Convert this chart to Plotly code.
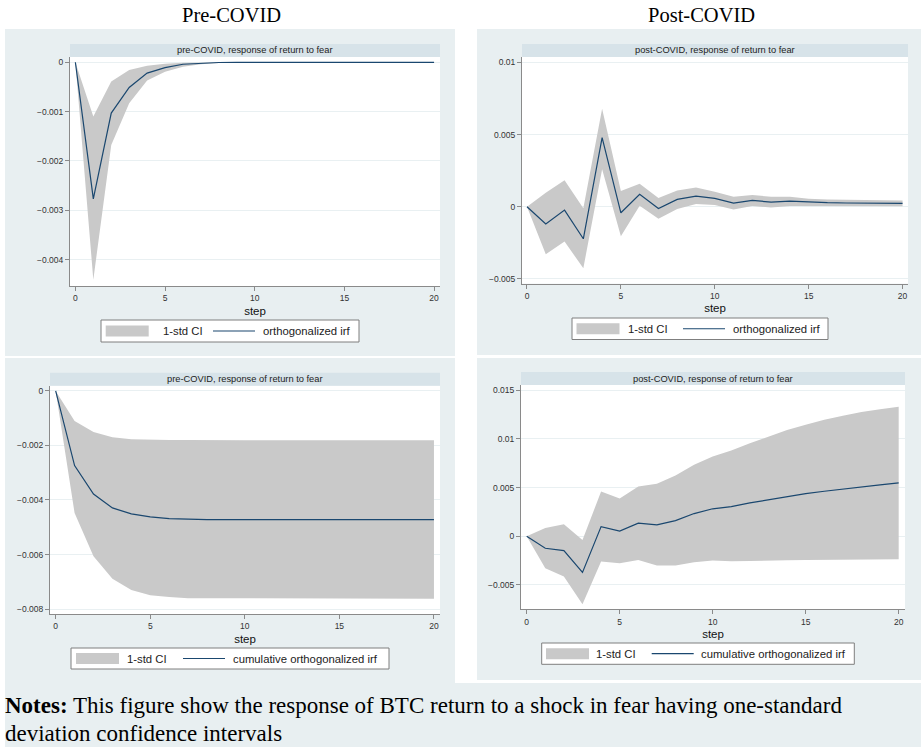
import plotly.graph_objects as go

W, H = 921, 747

# ---------------- data ----------------
steps = list(range(21))

# pre-COVID, orthogonalized irf
pre_irf = [0, -0.00277, -0.00103, -0.00051, -0.00022, -0.00011, -0.00004, -0.000015, -0.000005,
           -0.000002, 0, 0, 0, 0, 0, 0, 0, 0, 0, 0, 0]
pre_hi = [0, -0.00110, -0.00039, -0.000155, -0.00007, -0.00003, -0.00001, -0.000003, 0,
          0, 0, 0, 0, 0, 0, 0, 0, 0, 0, 0, 0]
pre_lo = [0, -0.00441, -0.00168, -0.00083, -0.00037, -0.00019, -0.00009, -0.00004, -0.000015,
          -0.000005, -0.000002, 0, 0, 0, 0, 0, 0, 0, 0, 0, 0]

# post-COVID, orthogonalized irf
post_irf = [0, -0.00120, -0.00023, -0.00222, 0.00479, -0.00042, 0.00086, -0.00012, 0.00051, 0.00074,
            0.00058, 0.00025, 0.00044, 0.00032, 0.00039, 0.00032, 0.00028, 0.00026, 0.00025, 0.00024, 0.00023]
post_hi = [0, 0.00097, 0.00183, -0.00010, 0.00678, 0.00109, 0.00160, 0.00060, 0.00113, 0.00134,
           0.00104, 0.00069, 0.00081, 0.00069, 0.00069, 0.00055, 0.00050, 0.00048, 0.00046, 0.00045, 0.00044]
post_lo = [0, -0.00329, -0.00241, -0.00426, 0.00259, -0.00204, 0.00007, -0.00083, -0.00016, 0.00019,
           0.00012, -0.00019, 0.00005, -0.00005, 0.00005, 0.0, 0.00002, 0.00002, 0.00002, 0.00003, 0.00003]

# pre-COVID, cumulative orthogonalized irf
cpre_irf = [0, -0.00274, -0.00378, -0.00429, -0.00451, -0.00462, -0.00468, -0.00471, -0.00472,
            -0.00472, -0.00472, -0.00472, -0.00472, -0.00472, -0.00472, -0.00472, -0.00472, -0.00472,
            -0.00472, -0.00472, -0.00472]
cpre_hi = [0, -0.00110, -0.00151, -0.00170, -0.00177, -0.00179, -0.00180, -0.00180, -0.00181,
           -0.00181, -0.00181, -0.00181, -0.00181, -0.00181, -0.00181, -0.00181, -0.00181, -0.00181,
           -0.00181, -0.00181, -0.00181]
cpre_lo = [0, -0.00448, -0.00606, -0.00689, -0.00730, -0.00749, -0.00756, -0.00760, -0.00762,
           -0.00762, -0.00762, -0.00762, -0.00762, -0.00762, -0.00762, -0.00762, -0.00762, -0.00762,
           -0.00762, -0.00762, -0.00762]

# post-COVID, cumulative orthogonalized irf
cpost_irf = [0, -0.00123, -0.00147, -0.00371, 0.00099, 0.00053, 0.00134, 0.00117, 0.00160, 0.00233,
             0.00282, 0.00305, 0.00342, 0.00373, 0.00408, 0.00438, 0.00462, 0.00486, 0.00507, 0.00527, 0.00548]
cpost_hi = [0, 0.00086, 0.00123, -0.00038, 0.00459, 0.00387, 0.00510, 0.00538, 0.00623, 0.00733,
            0.00818, 0.00880, 0.00955, 0.01024, 0.01092, 0.01144, 0.01195, 0.01236, 0.01277, 0.01305, 0.01329]
cpost_lo = [0, -0.00329, -0.00414, -0.00699, -0.00260, -0.00277, -0.00243, -0.00301, -0.00301, -0.00267,
            -0.00250, -0.00257, -0.00253, -0.00253, -0.00247, -0.00243, -0.00240, -0.00240, -0.00236,
            -0.00236, -0.00236]

x_ticks = [0, 5, 10, 15, 20]
x_ticklabels = ["0", "5", "10", "15", "20"]
y_ticks_pre = [0, -0.001, -0.002, -0.003, -0.004]
y_labels_pre = ["0", "\u22120.001", "\u22120.002", "\u22120.003", "\u22120.004"]
y_ticks_post = [0.01, 0.005, 0, -0.005]
y_labels_post = ["0.01", "0.005", "0", "\u22120.005"]
y_ticks_cpre = [0, -0.002, -0.004, -0.006, -0.008]
y_labels_cpre = ["0", "\u22120.002", "\u22120.004", "\u22120.006", "\u22120.008"]
y_ticks_cpost = [0.015, 0.01, 0.005, 0, -0.005]
y_labels_cpost = ["0.015", "0.01", "0.005", "0", "\u22120.005"]

col_titles = ["Pre-COVID", "Post-COVID"]
strip_titles = ["pre-COVID, response of return to fear", "post-COVID, response of return to fear",
                "pre-COVID, response of return to fear", "post-COVID, response of return to fear"]
legend_labels = [["1-std CI", "orthogonalized irf"], ["1-std CI", "orthogonalized irf"],
                 ["1-std CI", "cumulative orthogonalized irf"], ["1-std CI", "cumulative orthogonalized irf"]]
note_line1 = "<b>Notes:</b> This figure show the response of BTC return to a shock in fear having one-standard"
note_line2 = "deviation confidence intervals"

# ---------------- style ----------------
PANEL_BG = "#e8eff1"
STRIP_BG = "#d7e3e9"
CI_COLOR = "#c9c9c9"
LINE_COLOR = "#1a476f"
AXIS_COLOR = "#8a8a8a"
GRID_COLOR = "#e9f0f2"
SANS = "Liberation Sans, Arial, sans-serif"
SERIF = "Liberation Serif, Times New Roman, serif"


def px(x):
    return x / W


def py(y):
    return 1 - y / H


# panel geometry in pixels: plot area (left, right, top, bottom), x range, y range
panels = [
    dict(l=70, r=440, t=57, b=286, xr=[-0.30, 20.33], yr=[-0.004537, 0.000107],
         data=(pre_irf, pre_hi, pre_lo), yt=(y_ticks_pre, y_labels_pre),
         leg=dict(x0=101, x1=359, y0=320, y1=342, s0=105.7, t1=160.5, l0=213, t2=261)),
    dict(l=522, r=908, t=57, b=283.7, xr=[-0.266, 20.29], yr=[-0.00533, 0.01037],
         data=(post_irf, post_hi, post_lo), yt=(y_ticks_post, y_labels_post),
         leg=dict(x0=572, x1=828, y0=318, y1=339.5, s0=576.5, t1=625.5, l0=683, t2=731)),
    dict(l=50, r=440, t=385.7, b=614, xr=[-0.30, 20.32], yr=[-0.00818, 0.00019],
         data=(cpre_irf, cpre_hi, cpre_lo), yt=(y_ticks_cpre, y_labels_cpre),
         leg=dict(x0=71, x1=389, y0=648, y1=669, s0=76, t1=125, l0=183, t2=231)),
    dict(l=521, r=905, t=385, b=609.3, xr=[-0.306, 20.34], yr=[-0.0075, 0.01553],
         data=(cpost_irf, cpost_hi, cpost_lo), yt=(y_ticks_cpost, y_labels_cpost),
         leg=dict(x0=541.7, x1=854.3, y0=643, y1=664.3, s0=546, t1=594, l0=651.7, t2=699)),
]

fig = go.Figure()
shapes = []
annotations = []

# white page areas (title band, column gap, row gap, left margin)
white_rects = [
    (0, 0, W, 29),
    (455, 0, 477, 683),
    (0, 356, 455, 358),
    (477, 355, W, 358),
    (477, 680, W, 683),
    (0, 0, 5, H),
]
for (x0, y0, x1, y1) in white_rects:
    shapes.append(dict(type="rect", xref="paper", yref="paper", x0=px(x0), x1=px(x1),
                       y0=py(y1), y1=py(y0), fillcolor="white", line=dict(width=0), layer="below"))

for i, p in enumerate(panels):
    n = "" if i == 0 else str(i + 1)
    xa, ya = "x" + n, "y" + n
    irf, hi, lo = p["data"]
    fig.add_trace(go.Scatter(x=steps + steps[::-1], y=hi + lo[::-1], fill="toself",
                             fillcolor=CI_COLOR, line=dict(width=0), mode="lines",
                             name=legend_labels[i][0], showlegend=False, hoverinfo="skip",
                             xaxis=xa, yaxis=ya))
    fig.add_trace(go.Scatter(x=steps, y=irf, mode="lines", line=dict(color=LINE_COLOR, width=1.2),
                             name=legend_labels[i][1], showlegend=False, xaxis=xa, yaxis=ya))

    fig.layout["xaxis" + n] = dict(
        domain=[px(p["l"]), px(p["r"])], anchor=ya, range=p["xr"],
        tickvals=x_ticks, ticktext=x_ticklabels, ticks="outside", ticklen=4, tickcolor=AXIS_COLOR,
        showline=True, linecolor=AXIS_COLOR, linewidth=1, showgrid=False, zeroline=False,
        tickfont=dict(family=SANS, size=8.5, color="#333"),
        title=dict(text="step", font=dict(family=SANS, size=11.5, color="#111"), standoff=4))
    fig.layout["yaxis" + n] = dict(
        domain=[py(p["b"]), py(p["t"])], anchor=xa, range=p["yr"],
        tickvals=p["yt"][0], ticktext=p["yt"][1], ticks="outside", ticklen=4, tickcolor=AXIS_COLOR,
        showline=True, linecolor=AXIS_COLOR, linewidth=1, showgrid=True, gridcolor=GRID_COLOR,
        gridwidth=1, zeroline=False, tickfont=dict(family=SANS, size=8.5, color="#333"))

    # strip title band
    st = p["t"] - 13
    shapes.append(dict(type="rect", xref="paper", yref="paper", x0=px(p["l"]), x1=px(p["r"]),
                       y0=py(p["t"]), y1=py(st), fillcolor=STRIP_BG, line=dict(width=0), layer="below"))
    annotations.append(dict(text=strip_titles[i], xref="paper", yref="paper",
                            x=px((p["l"] + p["r"]) / 2), y=py((st + p["t"]) / 2), xanchor="center",
                            yanchor="middle", showarrow=False,
                            font=dict(family=SANS, size=9.3, color="#222")))

    # legend box
    lg = p["leg"]
    cy = (lg["y0"] + lg["y1"]) / 2
    shapes.append(dict(type="rect", xref="paper", yref="paper", x0=px(lg["x0"]), x1=px(lg["x1"]),
                       y0=py(lg["y1"]), y1=py(lg["y0"]), fillcolor="white",
                       line=dict(color="#7f7f7f", width=1)))
    shapes.append(dict(type="rect", xref="paper", yref="paper", x0=px(lg["s0"]), x1=px(lg["s0"] + 43),
                       y0=py(cy + 5.5), y1=py(cy - 5.5), fillcolor=CI_COLOR, line=dict(width=0)))
    shapes.append(dict(type="line", xref="paper", yref="paper", x0=px(lg["l0"]), x1=px(lg["l0"] + 42),
                       y0=py(cy), y1=py(cy), line=dict(color=LINE_COLOR, width=1.2)))
    for tx, lab in ((lg["t1"], legend_labels[i][0]), (lg["t2"], legend_labels[i][1])):
        annotations.append(dict(text=lab, xref="paper", yref="paper", x=px(tx), y=py(cy),
                                xanchor="left", yanchor="middle", showarrow=False,
                                font=dict(family=SANS, size=11.3, color="#222")))

# column titles
for cx, t in zip((231.5, 701.5), col_titles):
    annotations.append(dict(text=t, xref="paper", yref="paper", x=px(cx), y=py(15), xanchor="center",
                            yanchor="middle", showarrow=False,
                            font=dict(family=SERIF, size=20.5, color="#000")))

# notes
annotations.append(dict(text=note_line1, xref="paper", yref="paper", x=px(3), y=py(705),
                        xanchor="left", yanchor="middle", showarrow=False,
                        font=dict(family=SERIF, size=23, color="#000")))
annotations.append(dict(text=note_line2, xref="paper", yref="paper", x=px(3), y=py(733),
                        xanchor="left", yanchor="middle", showarrow=False,
                        font=dict(family=SERIF, size=23, color="#000")))

fig.update_layout(width=W, height=H, margin=dict(l=0, r=0, t=0, b=0, pad=0),
                  paper_bgcolor=PANEL_BG, plot_bgcolor="white", showlegend=False,
                  shapes=shapes, annotations=annotations)

fig.write_html("out.html")
